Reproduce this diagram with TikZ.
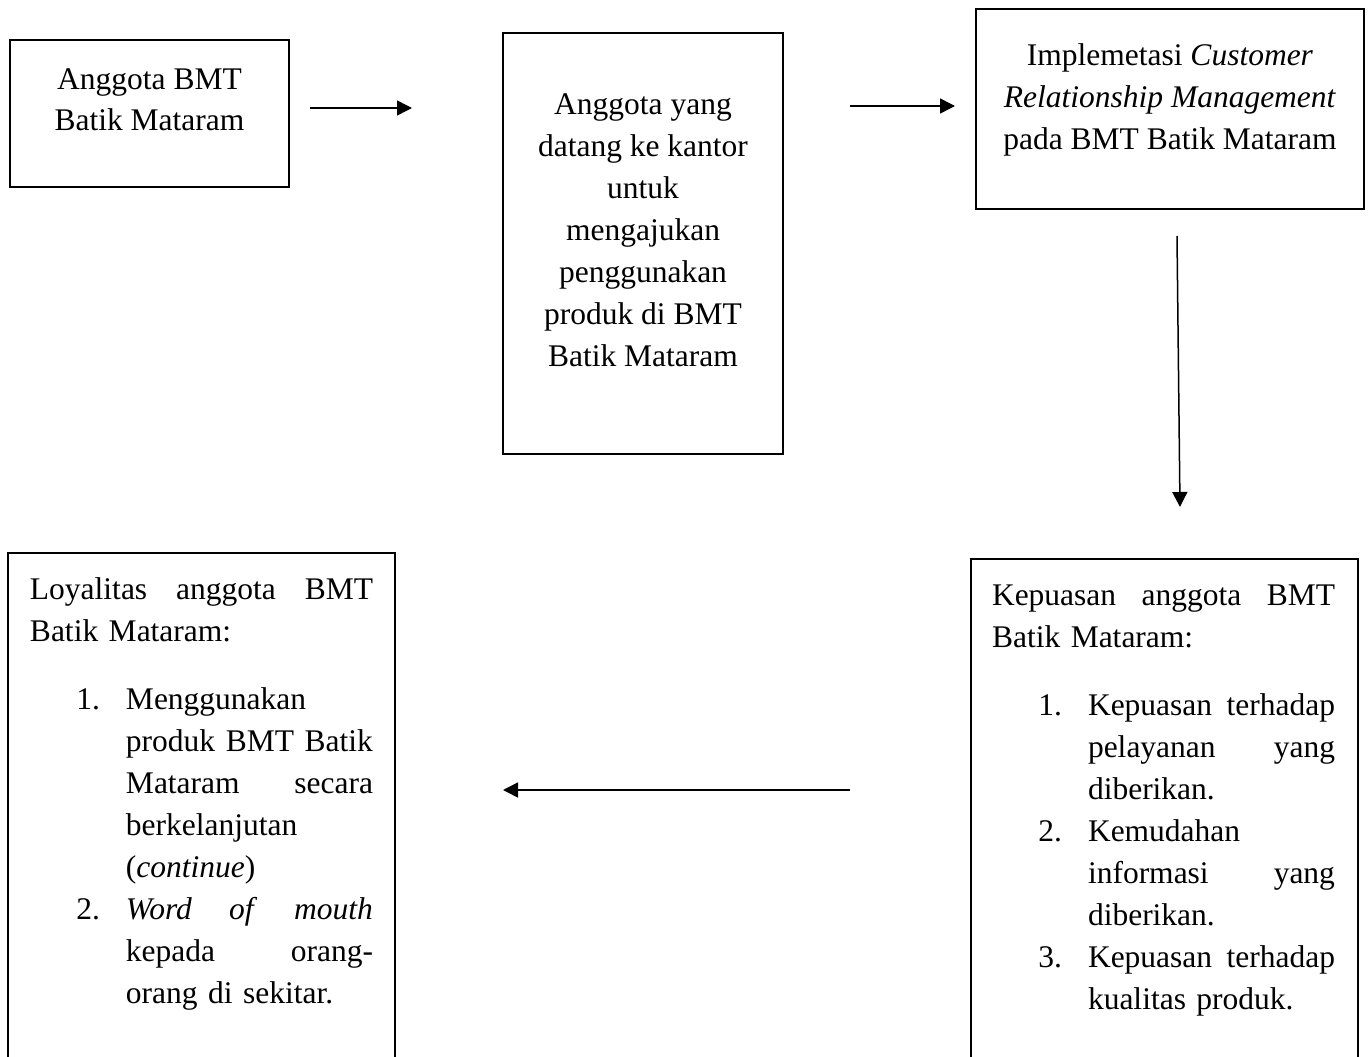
\documentclass[tikz,border=0pt]{standalone}
\usepackage{fontspec}
\setmainfont{Liberation Serif}
\usepackage{enumitem}
\usetikzlibrary{arrows.meta}
\setlength{\parindent}{0pt}

\begin{document}
\begin{tikzpicture}[x=1pt, y=-1pt,
  every node/.style={inner sep=0pt, outer sep=0pt, font=\fontsize{31.5}{42}\selectfont},
  kotak/.style={draw, line width=2.6pt},
  isi/.style={anchor=north, align=center},
  daftar/.style={anchor=north west, text width=343pt},
  panah/.style={-{Triangle[length=15pt,width=15pt]}, line width=1.5pt}]
\useasboundingbox (0,0) rectangle (1369,1057);
\clip (0,0) rectangle (1369,1057);

\node[kotak, minimum width=279pt, minimum height=147pt] (anggota) at (149.5,113.5) {};
\node[kotak, minimum width=280pt, minimum height=421pt] (datang) at (643,243.5) {};
\node[kotak, minimum width=388pt, minimum height=200pt] (crm) at (1170,109) {};
\node[kotak, minimum width=387pt, minimum height=509pt] (loyal) at (201.5,807.5) {};
\node[kotak, minimum width=387pt, minimum height=503pt] (puas) at (1164.5,810.5) {};

\node[isi] (anggotaTxt) at (149.5,59.6) {\strut Anggota BMT\\ Batik Mataram};
\node[isi] (datangTxt) at (643,84.6) {\strut Anggota yang\\ datang ke kantor\\ untuk\\ mengajukan\\ penggunakan\\ produk di BMT\\ Batik Mataram};
\node[isi] (crmTxt) at (1170,35.6) {\strut Implemetasi \textit{Customer}\\ \textit{Relationship Management}\\ pada BMT Batik Mataram};

\node[daftar] (loyalTxt) at (30,569.6) {\strut Loyalitas\hfill anggota\hfill BMT\\ Batik Mataram:\par\vspace{26pt}
\begin{enumerate}[leftmargin=96pt, labelsep=26pt, topsep=0pt, partopsep=0pt, itemsep=0pt, parsep=0pt]
\item Menggunakan\\ produk\hfill BMT\hfill Batik\\ Mataram\hfill secara\\ berkelanjutan\\ (\textit{continue})
\item \textit{Word}\hfill\textit{of}\hfill\textit{mouth}\\ kepada\hfill orang-\\ orang di sekitar.
\end{enumerate}};

\node[daftar] (puasTxt) at (992,575.6) {\strut Kepuasan\hfill anggota\hfill BMT\\ Batik Mataram:\par\vspace{26pt}
\begin{enumerate}[leftmargin=96pt, labelsep=26pt, topsep=0pt, partopsep=0pt, itemsep=0pt, parsep=0pt]
\item Kepuasan\hfill terhadap\\ pelayanan\hfill yang\\ diberikan.
\item Kemudahan\\ informasi\hfill yang\\ diberikan.
\item Kepuasan\hfill terhadap\\ kualitas produk.
\end{enumerate}};

\coordinate (p1) at (310,108);
\coordinate (q1) at (412,108);
\coordinate (p2) at (850,106);
\coordinate (q2) at (955,106);
\coordinate (p3) at (1177,236);
\coordinate (q3) at (1180,507);
\coordinate (p4) at (850,790);
\coordinate (q4) at (503,790);

\draw[panah] (p1) -- (q1);
\draw[panah] (p2) -- (q2);
\draw[panah] (p3) -- (q3);
\draw[panah] (p4) -- (q4);
\end{tikzpicture}
\end{document}
